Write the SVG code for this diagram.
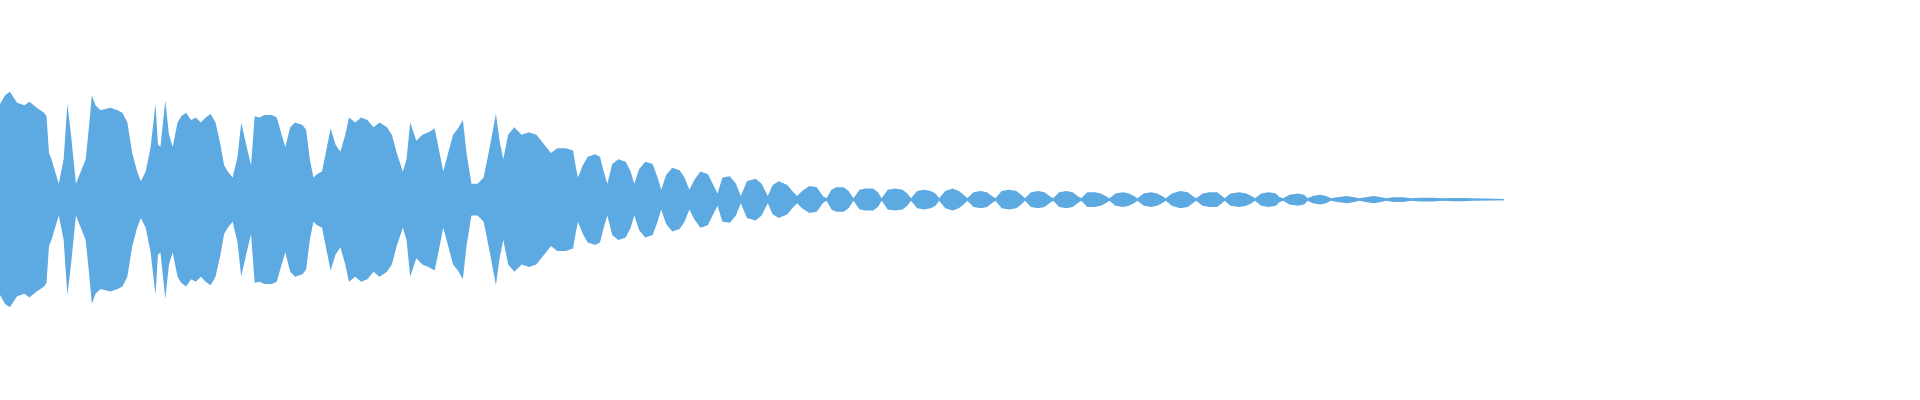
<svg xmlns="http://www.w3.org/2000/svg" width="1920" height="400" viewBox="0 0 1920 400">
<defs>
<path id="env" d="M0,163 L0,85 L4,78 L8,75 L14,84 L20,86 L24,83 L30,88 L36,92 L38,95 L40,125 L42,130 L45,140 L48,150 L52,130 L55,85 L58,110 L62,150 L66,140 L70,130 L73,100 L75,78 L78,86 L82,90 L90,88 L96,90 L100,92 L104,100 L108,125 L112,140 L115,148 L119,140 L123,120 L127,85 L129,118 L131,120 L135,82 L138,110 L141,120 L145,100 L148,95 L152,92 L156,98 L160,96 L164,100 L168,96 L172,93 L176,100 L180,118 L183,135 L186,140 L190,145 L194,128 L197,100 L201,118 L205,135 L208,95 L212,96 L216,94 L222,94 L226,96 L230,110 L233,120 L237,104 L241,100 L247,102 L250,106 L253,130 L256,145 L259,142 L263,140 L267,120 L270,105 L274,118 L278,124 L282,110 L285,96 L290,100 L295,96 L300,98 L305,104 L310,100 L316,104 L320,110 L324,125 L329,140 L332,130 L335,100 L340,115 L345,110 L350,108 L355,105 L358,120 L362,140 L366,125 L370,110 L374,105 L378,98 L381,125 L385,150 L390,150 L395,145 L400,120 L405,93 L408,115 L411,130 L415,110 L420,104 L426,110 L432,108 L438,110 L442,115 L446,120 L450,125 L455,121 L462,121 L468,123 L470,135 L472,145 L476,135 L480,128 L486,126 L490,128 L493,140 L496,150 L500,134 L505,130 L511,132 L515,140 L518,150 L522,138 L527,132 L533,134 L537,145 L540,155 L544,143 L549,137 L555,139 L559,145 L563,155 L567,147 L572,140 L578,142 L583,152 L586,158 L590,145 L596,144 L601,150 L605,160 L610,148 L617,146 L622,150 L627,160 L631,151 L636,148 L643,151 L647,156 L651,160 L655,156 L661,152 L667,153 L672,160 L675,162 L679,155 L683,153 L689,153 L693,156 L697,162 L702,155 L707,154 L713,154 L717,157 L720,162 L725,155 L731,154 L737,155 L741,158 L744,162 L749,156 L755,155 L760,156 L764,158 L767,162 L772,156 L778,154 L783,156 L787,159 L790,162 L795,157 L801,156 L806,157 L810,160 L813,162 L818,156 L824,155 L830,156 L834,159 L837,162 L842,157 L848,156 L853,157 L857,160 L860,162 L865,157 L871,156 L876,157 L880,160 L883,162 L888,157 L894,157 L899,158 L903,160 L906,162 L911,158 L917,157 L922,158 L926,160 L929,162 L934,158 L940,157 L945,158 L949,160 L952,162 L957,158 L964,156 L970,157 L974,160 L977,162 L982,158 L988,157 L994,157 L998,160 L1000,162 L1005,158 L1012,157 L1018,158 L1022,160 L1025,162 L1030,158 L1036,157 L1042,158 L1045,161 L1048,162 L1053,159 L1060,158 L1065,159 L1068,162 L1072,160 L1078,159 L1083,160 L1087,162 L1092,161 L1100,160 L1106,161 L1110,162 L1115,161 L1122,160 L1128,161 L1132,162 L1138,161 L1146,161 L1152,162 L1160,161.5 L1170,161.5 L1178,162 L1186,161.7 L1195,161.7 L1202,162 L1212,162.2 L1228,162.5 L1228,163 Z"/>
</defs>
<svg x="0" y="0" width="1920" height="400" viewBox="0 0 1568 326.67" preserveAspectRatio="none" fill="#5DA9E1">
<use href="#env"/>
<use href="#env" transform="matrix(1,0,0,-1,0,326)"/>
<rect x="0" y="162.5" width="1228" height="1"/>
</svg>
</svg>
